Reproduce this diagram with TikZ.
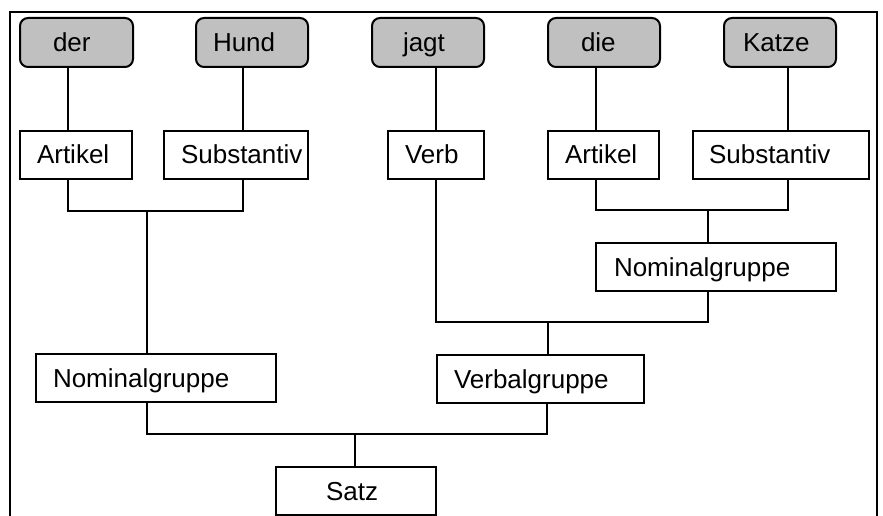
\documentclass[tikz,border=0pt]{standalone}
\usepackage{fontspec}
\setmainfont{Liberation Sans}
\definecolor{wordgray}{RGB}{192,192,192}
\tikzset{
  base/.style={draw=black, line width=2pt, anchor=north west, inner ysep=0pt,
    text height=20pt, text depth=2pt, align=left,
    font=\fontsize{26}{30}\selectfont},
  wordbox/.style={base, fill=wordgray, rounded corners=8pt, minimum height=49pt},
  catbox/.style={base, fill=white, minimum height=48pt},
  conn/.style={draw=black, line width=2pt},
}
\begin{document}
\begin{tikzpicture}[x=1pt,y=-1pt]
\useasboundingbox (0,0) rectangle (883,516);
\draw[conn] (10,520) -- (10,12) -- (877,12) -- (877,520);
% top row
\node[wordbox, inner xsep=33pt, text width=47pt] (der)   at (19,17)  {der};
\node[wordbox, inner xsep=17pt, text width=78pt] (hund)  at (195,17) {Hund};
\node[wordbox, inner xsep=31pt, text width=50pt] (jagt)  at (371,17) {jagt};
\node[wordbox, inner xsep=33pt, text width=46pt] (die)   at (547,17) {die};
\node[wordbox, inner xsep=19pt, text width=74pt] (katze) at (723,17) {Katze};
% second row
\node[catbox, inner xsep=17pt, text width=78pt]  (art1)  at (19,130)  {Artikel};
\node[catbox, inner xsep=17pt, text width=110pt] (sub1)  at (163,130) {Substantiv};
\node[catbox, inner xsep=17pt, text width=62pt]  (verb)  at (387,130) {Verb};
\node[catbox, inner xsep=17pt, text width=77pt]  (art2)  at (547,130) {Artikel};
\node[catbox, inner xsep=16pt, text width=144pt] (sub2)  at (692,130) {Substantiv};
% groups
\node[catbox, inner xsep=18pt, text width=204pt] (ng2)   at (595,242) {Nominalgruppe};
\node[catbox, inner xsep=17pt, text width=206pt] (ng1)   at (35,353)  {Nominalgruppe};
\node[catbox, inner xsep=17pt, text width=173pt] (vg)    at (436,354) {Verbalgruppe};
\node[catbox, inner xsep=50pt, text width=60pt]  (satz)  at (275,466) {Satz};
% column coordinates
\coordinate (cA) at (68,211);
\coordinate (cB) at (243,211);
\coordinate (cN1) at (147,211);
\coordinate (cV) at (436,322);
\coordinate (cD) at (596,210);
\coordinate (cK) at (788,210);
\coordinate (cN2) at (708,210);
\coordinate (cN2b) at (708,322);
\coordinate (cVG) at (548,322);
\coordinate (cVGb) at (547,434);
\coordinate (cN1b) at (147,434);
\coordinate (cS) at (355,434);
% word to category
\draw[conn] (der.south -| cA) -- (art1.north -| cA);
\draw[conn] (hund.south -| cB) -- (sub1.north -| cB);
\draw[conn] (jagt.south -| cV) -- (verb.north -| cV);
\draw[conn] (die.south -| cD) -- (art2.north -| cD);
\draw[conn] (katze.south -| cK) -- (sub2.north -| cK);
% left NP
\draw[conn] (art1.south -| cA) -- (cA) -- (cB) -- (sub1.south -| cB);
\draw[conn] (cN1) -- (ng1.north -| cN1);
% right NP
\draw[conn] (art2.south -| cD) -- (cD) -- (cK) -- (sub2.south -| cK);
\draw[conn] (cN2) -- (ng2.north -| cN2);
% VP
\draw[conn] (verb.south -| cV) -- (cV) -- (cN2b) -- (ng2.south -| cN2b);
\draw[conn] (cVG) -- (vg.north -| cVG);
% S
\draw[conn] (ng1.south -| cN1b) -- (cN1b) -- (cVGb) -- (vg.south -| cVGb);
\draw[conn] (cS) -- (satz.north -| cS);
\end{tikzpicture}
\end{document}
